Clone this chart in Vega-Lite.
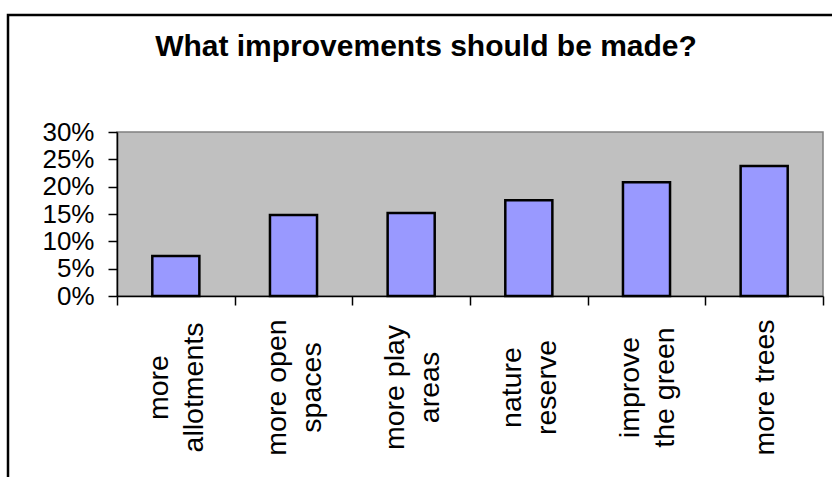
{
  "$schema": "https://vega.github.io/schema/vega-lite/v6.json",
  "width": 706,
  "height": 164,
  "autosize": {"type": "none"},
  "padding": {"left": 117, "top": 132, "right": 9, "bottom": 181},
  "background": "white",
  "config": {
    "view": {"fill": "#C0C0C0", "stroke": "#808080", "strokeWidth": 1.5},
    "font": "Liberation Sans"
  },
  "title": {
    "text": "What improvements should be made?",
    "font": "Liberation Sans",
    "fontSize": 30,
    "fontWeight": "bold",
    "color": "black",
    "anchor": "middle",
    "dx": -44,
    "offset": -72,
    "baseline": "alphabetic"
  },
  "layer": [
    {
      "data": {"values": [{"frame": 1}]},
      "mark": {"type": "rect", "fillOpacity": 0, "stroke": "black", "strokeWidth": 2.5},
      "encoding": {
        "x": {"value": -109},
        "x2": {"value": 740},
        "y": {"value": -117},
        "y2": {"value": 400}
      }
    },
    {
      "data": {
        "values": [
          {"cat": "more|allotments", "pct": 0.073},
          {"cat": "more open|spaces", "pct": 0.148},
          {"cat": "more play|areas", "pct": 0.152},
          {"cat": "nature|reserve", "pct": 0.175},
          {"cat": "improve|the green", "pct": 0.208},
          {"cat": "more trees", "pct": 0.238}
        ]
      },
      "mark": {"type": "bar", "fill": "#9999FF", "stroke": "black", "strokeWidth": 2.5, "width": {"band": 0.4}},
      "encoding": {
        "x": {
          "field": "cat",
          "type": "nominal",
          "sort": null,
          "scale": {"paddingInner": 0, "paddingOuter": 0},
          "axis": {
            "title": null,
            "labelExpr": "datum.value ? split(datum.value, '|') : ''",
            "labelAngle": -90,
            "labelAlign": "center",
            "labelBaseline": "middle",
            "labelPadding": 82,
            "labelOffset": {"condition": {"test": "datum.value && indexof(datum.value, '|') >= 0", "value": -17}, "value": 0},
            "labelFontSize": 28.5,
            "labelLineHeight": 35,
            "labelColor": "black",
            "labelLimit": 400,
            "labelOverlap": false,
            "tickBand": "extent",
            "tickSize": 9,
            "tickColor": "black",
            "tickWidth": 1.5,
            "domainColor": "black",
            "domainWidth": 1.5
          }
        },
        "y": {
          "field": "pct",
          "type": "quantitative",
          "scale": {"domain": [0, 0.3]},
          "axis": {
            "title": null,
            "format": ".0%",
            "values": [0, 0.05, 0.1, 0.15, 0.2, 0.25, 0.3],
            "grid": false,
            "labelFontSize": 26,
            "labelColor": "black",
            "labelPadding": 14,
            "labelFlush": false,
            "labelOverlap": false,
            "tickSize": 9,
            "tickColor": "black",
            "tickWidth": 1.5,
            "domainColor": "black",
            "domainWidth": 1.5
          }
        }
      }
    }
  ]
}
